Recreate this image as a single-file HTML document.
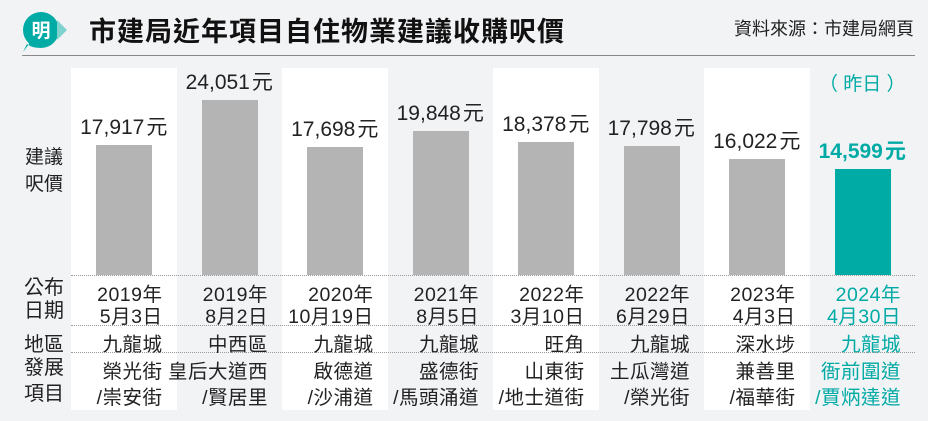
<!DOCTYPE html>
<html><head><meta charset="utf-8">
<style>
body{margin:0;width:928px;height:421px;background:#f2f3f5;overflow:hidden;font-family:"Liberation Sans","Noto Sans CJK TC",sans-serif;color:#222;position:relative}
.abs{position:absolute}
</style></head><body>
<div class="abs" style="left:21px;top:10px;width:42px;height:40px">
<svg width="46" height="42"><path d="M20 2 A18 18 0 1 1 6 34 L2 42 L8 34" fill="#00aaa5"/><circle cx="20" cy="20" r="18" fill="#00aaa5"/><path d="M36 10 L46 20 L36 30 Z" fill="#7fd3cf"/><text x="20" y="27" text-anchor="middle" font-size="19" font-weight="bold" fill="#fff" font-family="Noto Sans CJK TC,sans-serif">明</text></svg>
</div>
<div class="abs" style="left:89px;top:10px;font-size:27px;font-weight:bold;letter-spacing:1px;color:#111">市建局近年項目自住物業建議收購呎價</div>
<div class="abs" style="right:14px;top:15px;font-size:18px;color:#222">資料來源：市建局網頁</div>
<div class="abs" style="left:22px;top:55px;width:893px;height:1px;background:#888"></div>
<div class="abs" style="left:25px;top:144px;font-size:19px;line-height:27px">建議<br>呎價</div>
<div class="abs" style="left:24px;top:277px;font-size:20px;line-height:23px">公布<br>日期</div>
<div class="abs" style="left:24px;top:328px;font-size:20px">地區</div>
<div class="abs" style="left:24px;top:355px;font-size:20px;line-height:26px">發展<br>項目</div>
<div id="chart"></div>
<script>
const values=[17917,24051,17698,19848,18378,17798,16022,14599];
const valueLabels=["17,917元","24,051元","17,698元","19,848元","18,378元","17,798元","16,022元","14,599元"];
const years=["2019年","2019年","2020年","2021年","2022年","2022年","2023年","2024年"];
const days=["5月3日","8月2日","10月19日","8月5日","3月10日","6月29日","4月3日","4月30日"];
const districts=["九龍城","中西區","九龍城","九龍城","旺角","九龍城","深水埗","九龍城"];
const proj1=["榮光街","皇后大道西","啟德道","盛德街","山東街","土瓜灣道","兼善里","衙前圍道"];
const proj2=["/崇安街","/賢居里","/沙浦道","/馬頭涌道","/地士道街","/榮光街","/福華街","/賈炳達道"];
const c=document.getElementById('chart');
const x0=71,cw=105.5,base=275,k=130/17917;
const yScale=v=>base-v*k;
function add(html,name,style){const d=document.createElement('div');d.className='abs';d.innerHTML=html;d.style.cssText=style;


c.appendChild(d);return d;}
values.forEach((v,i)=>{
 const L=x0+i*cw;const last=i===values.length-1;const col=last?'#00aaa5':'#222';
 if(i%2===0) add('','column-bg',`left:${L}px;top:68px;width:${cw}px;height:342px;background:#fff`);
 const top=yScale(v);
 add('','bar',`left:${L+25}px;top:${top}px;width:56px;height:${base-top}px;background:${last?'#00aaa5':'#b4b4b4'}`);
 add(valueLabels[i].replace('元','<span style="margin-left:2px">元</span>'),'value-label',`left:${L-15}px;width:${cw+30}px;text-align:center;top:${top-34}px;font-size:21px;white-space:nowrap;color:${col};${last?'font-weight:bold':''}`);
 const cell=(t,n,top)=>add(t,n,`left:${L-10}px;width:${cw-4}px;text-align:right;top:${top}px;font-size:19.5px;letter-spacing:0.5px;color:${col};white-space:nowrap`);
 cell(years[i],'date-year',278);cell(days[i],'date-day',300);cell(districts[i],'district',328);cell(proj1[i],'project-line1',355);cell(proj2[i],'project-line2',381);
});
add('（ 昨日 ）','today-note',`left:${x0+7*cw}px;width:${cw}px;text-align:center;top:69px;font-size:19px;color:#00aaa5`);
[275,325,352].forEach(y=>add('','row-divider',`left:71px;top:${y}px;width:844px;border-top:1px dotted #999`));
</script>
</body></html>
